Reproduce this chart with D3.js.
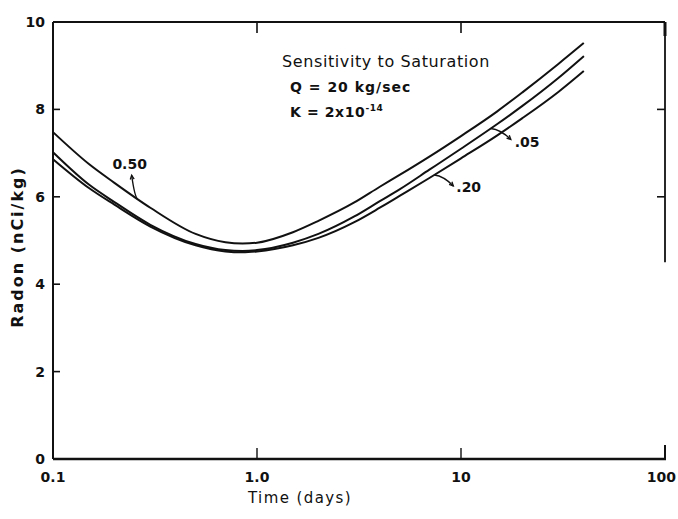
<!DOCTYPE html>
<html>
<head>
<meta charset="utf-8">
<script src="https://cdn.jsdelivr.net/npm/d3@7"></script>
<style>
  html, body { margin: 0; padding: 0; background: #fff; }
  svg text { font-family: "DejaVu Sans", "Open Sans", sans-serif; fill: #111; }
</style>
</head>
<body>
<svg id="chart" width="678" height="519"></svg>
<script>
// Time in days (log axis)
const days = [0.1, 0.15, 0.2, 0.3, 0.5, 0.7, 0.85, 1.0, 1.5, 2, 3, 4, 5, 7, 10, 15, 20, 30, 40];

// Radon concentration (nCi/kg) for each saturation value
const radonSat50 = [7.48, 6.75, 6.32, 5.75, 5.15, 4.96, 4.93, 4.95, 5.19, 5.45, 5.87, 6.23, 6.50, 6.92, 7.39, 7.95, 8.39, 9.04, 9.52];
const radonSat05 = [7.02, 6.28, 5.88, 5.36, 4.92, 4.78, 4.76, 4.78, 4.95, 5.15, 5.55, 5.90, 6.17, 6.62, 7.10, 7.66, 8.08, 8.72, 9.22];
const radonSat20 = [6.86, 6.20, 5.82, 5.32, 4.89, 4.75, 4.73, 4.75, 4.89, 5.06, 5.42, 5.75, 6.02, 6.43, 6.88, 7.40, 7.80, 8.40, 8.88];

const seriesLabels = ["0.50", ".05", ".20"];
const xTickValues = [0.1, 1, 10, 100];
const xTickLabels = ["0.1", "1.0", "10", "100"];
const yTickValues = [0, 2, 4, 6, 8, 10];

const svg = d3.select("#chart");
const plotL = 53, plotR = 665, plotT = 22, plotB = 459;

const x = d3.scaleLog().domain([0.1, 100]).range([plotL, plotR]);
const y = d3.scaleLinear().domain([0, 10]).range([plotB, plotT]);

const ink = "#111";

// Frame: bold bottom and left axes, top border, partial right border
svg.append("line").attr("x1", plotL).attr("x2", plotR + 1).attr("y1", plotB).attr("y2", plotB)
  .attr("stroke", ink).attr("stroke-width", 2.6);
svg.append("line").attr("x1", plotL).attr("x2", plotL).attr("y1", plotT).attr("y2", plotB)
  .attr("stroke", ink).attr("stroke-width", 2);
svg.append("line").attr("x1", plotL).attr("x2", plotR).attr("y1", plotT).attr("y2", plotT)
  .attr("stroke", ink).attr("stroke-width", 2);
svg.append("line").attr("x1", plotR).attr("x2", plotR).attr("y1", plotT).attr("y2", y(4.5))
  .attr("stroke", ink).attr("stroke-width", 1.8);
svg.append("line").attr("x1", plotR).attr("x2", plotR).attr("y1", plotB).attr("y2", plotB - 14)
  .attr("stroke", ink).attr("stroke-width", 2);

// x ticks (inward on bottom and top)
[1, 10].forEach(v => {
  svg.append("line").attr("x1", x(v)).attr("x2", x(v)).attr("y1", plotB).attr("y2", plotB - 11)
    .attr("stroke", ink).attr("stroke-width", 1.4);
  svg.append("line").attr("x1", x(v)).attr("x2", x(v)).attr("y1", plotT).attr("y2", plotT + 11)
    .attr("stroke", ink).attr("stroke-width", 1.6);
});
svg.append("line").attr("x1", plotR).attr("x2", plotR).attr("y1", plotT).attr("y2", plotT + 14)
  .attr("stroke", ink).attr("stroke-width", 3);

// y ticks (inward on left; on right where the border reaches)
yTickValues.filter(v => v > 0 && v < 10).forEach(v => {
  svg.append("line").attr("x1", plotL).attr("x2", plotL + 7).attr("y1", y(v)).attr("y2", y(v))
    .attr("stroke", ink).attr("stroke-width", 1.6);
});
[6, 8].forEach(v => {
  svg.append("line").attr("x1", plotR).attr("x2", plotR - 8).attr("y1", y(v)).attr("y2", y(v))
    .attr("stroke", ink).attr("stroke-width", 1.6);
});

// Tick labels (the last one is kept inside the page edge)
svg.selectAll(".xl").data(xTickValues).join("text")
  .attr("x", d => d === 100 ? 676 : x(d)).attr("y", 482)
  .attr("text-anchor", d => d === 100 ? "end" : "middle")
  .attr("font-size", 14).attr("font-weight", 600)
  .text((d, i) => xTickLabels[i]);
svg.selectAll(".yl").data(yTickValues).join("text")
  .attr("x", plotL - 8).attr("y", d => y(d) + 5)
  .attr("text-anchor", "end").attr("font-size", 14).attr("font-weight", 600)
  .text(d => d);

// Axis titles
svg.append("text").attr("x", 300).attr("y", 503).attr("text-anchor", "middle")
  .attr("font-size", 15).attr("letter-spacing", 1.4).text("Time (days)");
svg.append("text").attr("transform", "translate(23,247) rotate(-90)").attr("text-anchor", "middle")
  .attr("font-size", 16).attr("font-weight", 600).attr("letter-spacing", 2).text("Radon (nCi/kg)");

// Curves
const line = d3.line().x((d, i) => x(days[i])).y(d => y(d)).curve(d3.curveMonotoneX);
const seriesAll = [radonSat50, radonSat05, radonSat20];
const paths = seriesAll.map(s => svg.append("path").datum(s).attr("d", line)
  .attr("fill", "none").attr("stroke", ink).attr("stroke-width", 2));

// Point on a drawn curve at a given time
function pointAt(path, t) {
  const node = path.node(), target = x(t);
  let lo = 0, hi = node.getTotalLength();
  for (let k = 0; k < 40; k++) {
    const mid = (lo + hi) / 2;
    if (node.getPointAtLength(mid).x < target) lo = mid; else hi = mid;
  }
  return node.getPointAtLength(lo);
}

// Curve labels with leader arrows
const leaders = [
  { path: paths[0], t: 0.26, dx: -6, dy: -24, lx: -8, ly: -30, anchor: "middle", label: seriesLabels[0] },
  { path: paths[1], t: 14, dx: 20, dy: 11, lx: 24, ly: 18, anchor: "start", label: seriesLabels[1] },
  { path: paths[2], t: 7.4, dx: 19, dy: 11, lx: 22, ly: 17, anchor: "start", label: seriesLabels[2] }
];
leaders.forEach(L => {
  const p = pointAt(L.path, L.t);
  const cx = p.x + L.dx * 0.5, cy = p.y + L.dy * 0.1;
  const ex = p.x + L.dx, ey = p.y + L.dy;
  svg.append("path")
    .attr("d", `M${p.x},${p.y} Q${cx},${cy} ${ex},${ey}`)
    .attr("fill", "none").attr("stroke", ink).attr("stroke-width", 1.4);
  // arrowhead at the label end
  const ang = Math.atan2(ey - cy, ex - cx), len = 4.5;
  const a1 = ang + Math.PI - 0.45, a2 = ang + Math.PI + 0.45;
  svg.append("path")
    .attr("d", `M${ex + len * Math.cos(a1)},${ey + len * Math.sin(a1)} L${ex},${ey} L${ex + len * Math.cos(a2)},${ey + len * Math.sin(a2)}`)
    .attr("fill", "none").attr("stroke", ink).attr("stroke-width", 1.3);
  svg.append("text").attr("x", p.x + L.lx).attr("y", p.y + L.ly)
    .attr("text-anchor", L.anchor).attr("font-size", 14).attr("font-weight", 600).text(L.label);
});

// Annotation block
svg.append("text").attr("x", 282).attr("y", 67).attr("font-size", 16).attr("letter-spacing", 0.6)
  .text("Sensitivity to Saturation");
svg.append("text").attr("x", 290).attr("y", 92).attr("font-size", 14).attr("font-weight", 600)
  .attr("letter-spacing", 1).text("Q = 20 kg/sec");
const kText = svg.append("text").attr("x", 290).attr("y", 117).attr("font-size", 14).attr("font-weight", 600)
  .attr("letter-spacing", 0.6);
kText.append("tspan").text("K = 2x10");
kText.append("tspan").attr("dy", -6).attr("font-size", 9).text("-14");
</script>
</body>
</html>
